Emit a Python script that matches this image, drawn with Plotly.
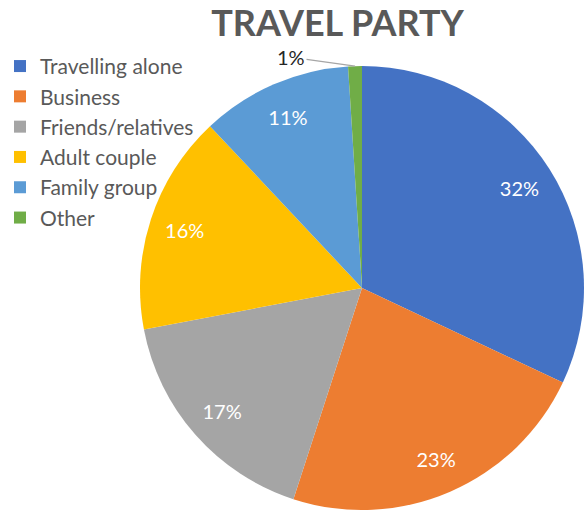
import math
import plotly.graph_objects as go

# Share of visitors by travel party
categories = ["Travelling alone", "Business", "Friends/relatives",
              "Adult couple", "Family group", "Other"]
shares = [32, 23, 17, 16, 11, 1]
label_text = ["32%", "23%", "17%", "16%", "11%", "1%"]

slice_colors = ["#4472C4", "#ED7D31", "#A5A5A5", "#FFC000", "#5B9BD5", "#70AD47"]

W, H = 585, 510
pie_domain = dict(x=[0.2393, 0.9983], y=[0.0, 0.8706])

# Large slices carry their label inside, near the rim; tiny slices get a callout
inside_labels = [t if v >= 5 else "" for t, v in zip(label_text, shares)]

fig = go.Figure()

# Coloured slices
fig.add_trace(
    go.Pie(
        labels=categories,
        values=shares,
        textinfo="none",
        marker=dict(colors=slice_colors, line=dict(width=0)),
        sort=False,
        direction="clockwise",
        rotation=0,
        domain=pie_domain,
        showlegend=True,
    )
)

# Transparent ring over the pie so the inside labels sit near the outer edge
fig.add_trace(
    go.Pie(
        labels=categories,
        values=shares,
        text=inside_labels,
        textinfo="text",
        textposition="inside",
        insidetextorientation="horizontal",
        textfont=dict(family="Lato", size=20, color="white"),
        marker=dict(colors=["rgba(0,0,0,0)"] * len(categories), line=dict(width=0)),
        hole=0.68,
        sort=False,
        direction="clockwise",
        rotation=0,
        domain=pie_domain,
        showlegend=False,
        hoverinfo="skip",
    )
)

# Callout for small slices: leader line from the slice's outer edge to the label
box_w = (pie_domain["x"][1] - pie_domain["x"][0]) * W
box_h = (pie_domain["y"][1] - pie_domain["y"][0]) * H
radius_px = min(box_w, box_h) / 2
cx_px = (pie_domain["x"][0] + pie_domain["x"][1]) / 2 * W
cy_px = (1 - (pie_domain["y"][0] + pie_domain["y"][1]) / 2) * H
total = sum(shares)
running = 0
for label, value in zip(label_text, shares):
    mid = (running + value / 2) / total * 2 * math.pi
    running += value
    if value >= 5:
        continue
    px = cx_px + radius_px * math.sin(mid)
    py = cy_px - radius_px * math.cos(mid)
    fig.add_annotation(
        x=px / W,
        y=1 - py / H,
        xref="paper",
        yref="paper",
        text=label,
        showarrow=True,
        arrowhead=0,
        arrowwidth=1.2,
        arrowcolor="#A6A6A6",
        ax=-64,
        ay=-9,
        font=dict(family="Lato", size=20, color="#262626"),
    )

fig.update_layout(
    width=W,
    height=H,
    margin=dict(l=0, r=0, t=0, b=0),
    paper_bgcolor="white",
    plot_bgcolor="white",
    title=dict(
        text="<b>TRAVEL PARTY</b>",
        x=0.577,
        xanchor="center",
        y=0.954,
        yanchor="middle",
        font=dict(family="Lato", size=36, color="#595959"),
    ),
    legend=dict(
        x=0.0,
        y=0.910,
        xanchor="left",
        yanchor="top",
        font=dict(family="Lato", size=21, color="#595959"),
        bgcolor="rgba(0,0,0,0)",
        traceorder="normal",
    ),
)

fig.write_html("out.html")
